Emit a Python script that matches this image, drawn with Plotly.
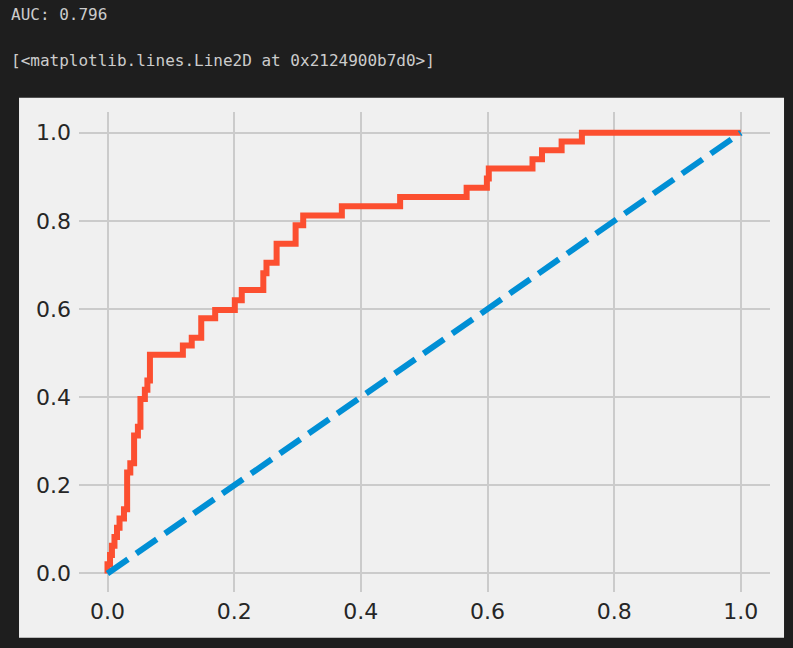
import plotly.graph_objects as go

# ROC curve (corner points of the staircase)
fpr = [0.000, 0.000, 0.004, 0.004, 0.007, 0.007, 0.011, 0.011, 0.015, 0.015,
       0.019, 0.019, 0.026, 0.026, 0.031, 0.031, 0.036, 0.036, 0.042, 0.042,
       0.048, 0.048, 0.052, 0.052, 0.059, 0.059, 0.063, 0.063, 0.067, 0.067,
       0.119, 0.119, 0.133, 0.133, 0.148, 0.148, 0.170, 0.170, 0.201, 0.201,
       0.212, 0.212, 0.246, 0.246, 0.251, 0.251, 0.267, 0.267, 0.297, 0.297,
       0.309, 0.309, 0.370, 0.370, 0.462, 0.462, 0.567, 0.567, 0.599, 0.599,
       0.602, 0.602, 0.671, 0.671, 0.686, 0.686, 0.717, 0.717, 0.749, 0.749,
       1.000]
tpr = [0.000, 0.021, 0.021, 0.042, 0.042, 0.063, 0.063, 0.083, 0.083, 0.104,
       0.104, 0.125, 0.125, 0.146, 0.146, 0.229, 0.229, 0.250, 0.250, 0.313,
       0.313, 0.333, 0.333, 0.396, 0.396, 0.417, 0.417, 0.438, 0.438, 0.496,
       0.496, 0.517, 0.517, 0.535, 0.535, 0.579, 0.579, 0.598, 0.598, 0.620,
       0.620, 0.643, 0.643, 0.681, 0.681, 0.705, 0.705, 0.748, 0.748, 0.790,
       0.790, 0.812, 0.812, 0.833, 0.833, 0.854, 0.854, 0.875, 0.875, 0.896,
       0.896, 0.919, 0.919, 0.940, 0.940, 0.960, 0.960, 0.980, 0.980, 1.000,
       1.000]

# diagonal reference
diag = [0, 1]

tick_vals = [0.0, 0.2, 0.4, 0.6, 0.8, 1.0]
tick_text = ['0.0', '0.2', '0.4', '0.6', '0.8', '1.0']

auc_text = 'AUC: 0.796'
repr_text = '[<matplotlib.lines.Line2D at 0x2124900b7d0>]'

fig = go.Figure()

fig.add_trace(go.Scatter(
    x=fpr, y=tpr,
    mode='lines',
    line=dict(color='#fc4f30', width=6),
    hoverinfo='skip'
))

fig.add_trace(go.Scatter(
    x=diag, y=diag,
    mode='lines',
    line=dict(color='#008fd5', width=6, dash='25px,10px'),
    hoverinfo='skip'
))

# light figure panel behind the axes (like the matplotlib figure patch)
fig.add_shape(
    type='rect', xref='paper', yref='paper',
    x0=-0.0868, x1=1.0203, y0=-0.0952, y1=1.0298,
    fillcolor='#f0f0f0', line=dict(width=0), layer='below'
)

# notebook output text above the figure
out_font = dict(family='DejaVu Sans Mono', size=16, color='#cccccc')
fig.add_annotation(
    text=auc_text, xref='paper', yref='paper',
    x=-0.1013, y=1.204, xanchor='left', yanchor='middle',
    showarrow=False, font=out_font
)
fig.add_annotation(
    text=repr_text, xref='paper', yref='paper',
    x=-0.1013, y=1.108, xanchor='left', yanchor='middle',
    showarrow=False, font=out_font
)

axis_style = dict(
    tickvals=tick_vals, ticktext=tick_text,
    showgrid=True, gridcolor='#cbcbcb', gridwidth=1.5,
    zeroline=False, showline=False, ticks='',
    tickfont=dict(family='DejaVu Sans', size=22, color='#262626'),
)

fig.update_layout(
    width=793, height=648,
    margin=dict(l=79, r=23, t=112, b=56),
    paper_bgcolor='#1e1e1e',
    plot_bgcolor='#f0f0f0',
    showlegend=False,
    xaxis=dict(range=[-0.045, 1.046], ticklabelstandoff=4, **axis_style),
    yaxis=dict(range=[-0.042, 1.047], ticklabelstandoff=7, **axis_style),
)

# drop the page's default body margin so the figure sits at (0, 0)
fig.write_html(
    'out.html',
    config={'displayModeBar': False},
    post_script="document.body.style.margin='0';document.body.style.background='#1e1e1e';"
)
